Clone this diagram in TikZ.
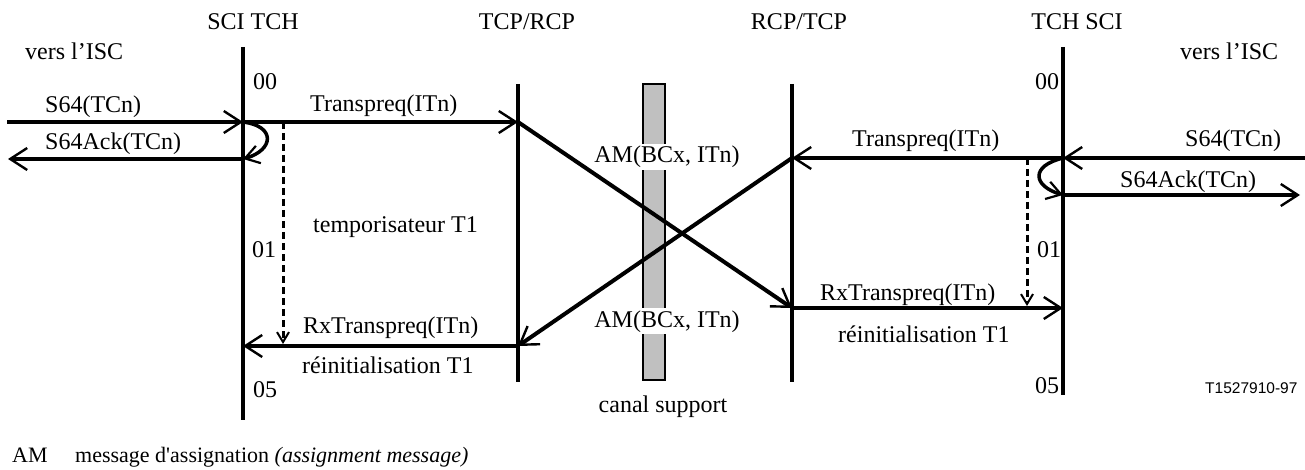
\documentclass[tikz,border=0pt]{standalone}
\usepackage{fontspec}
\setmainfont{Liberation Serif}
\newfontfamily\figsans{Liberation Sans}
\usetikzlibrary{arrows.meta}
\definecolor{bargray}{RGB}{192,192,192}

\begin{document}
\begin{tikzpicture}[
    x=1pt, y=-1pt,
    every node/.style={font=\fontsize{24}{28}\selectfont, inner sep=0pt, anchor=base west},
    life/.style={line width=3.2pt},
    msg/.style={line width=4pt, -{Straight Barb[length=17pt, width=22pt, line width=2.4pt]}},
    loopback/.style={line width=3.5pt, -{Straight Barb[length=14pt, width=18pt, line width=2.2pt]}},
    timer/.style={line width=3pt, dash pattern=on 7pt off 4pt, -{Straight Barb[length=10pt, width=12pt, line width=2pt]}},
    title/.style={anchor=base},
    ammsg/.style={anchor=base, fill=white, inner sep=2pt},
    refno/.style={font=\figsans\fontsize{15.5}{18}\selectfont},
    legend/.style={font=\fontsize{22}{26}\selectfont}
]
    \useasboundingbox (0,0) rectangle (1305,470);

    % Headings
    \node[title] (hSciL) at (253,30) {SCI TCH};
    \node[title] (hTcp) at (527,30) {TCP/RCP};
    \node[title] (hRcp) at (799,30) {RCP/TCP};
    \node[title] (hSciR) at (1077,30) {TCH SCI};
    \node (versL) at (25,60) {vers l’ISC};
    \node (versR) at (1180,60) {vers l’ISC};

    % Lifelines
    \coordinate (tchL-top) at (243,47);
    \coordinate (tchL-bot) at (243,420);
    \coordinate (tcp-top) at (518,84);
    \coordinate (tcp-bot) at (518,382);
    \coordinate (rcp-top) at (792,84);
    \coordinate (rcp-bot) at (792,382);
    \coordinate (tchR-top) at (1063,47);
    \coordinate (tchR-bot) at (1063,395);
    \draw[life] (tchL-top) -- (tchL-bot);
    \draw[life] (tcp-top) -- (tcp-bot);
    \draw[life] (rcp-top) -- (rcp-bot);
    \draw[life] (tchR-top) -- (tchR-bot);

    % Bearer channel
    \draw[line width=2.8pt, fill=bargray] (643,84) rectangle (665,380);
    \node[title] (canal) at (663,412) {canal support};

    % Message points
    \coordinate (iscL-in) at (7,122);
    \coordinate (iscL-out) at (8,159);
    \coordinate (tchL-s64) at (243,122);
    \coordinate (tchL-ack) at (243,159);
    \coordinate (tchL-rx) at (243,346);
    \coordinate (tcp-in) at (518,122);
    \coordinate (tcp-rx) at (518,346);
    \coordinate (rcp-in) at (792,158);
    \coordinate (rcp-rx) at (792,308);
    \coordinate (tchR-s64) at (1063,158);
    \coordinate (tchR-ack) at (1063,195);
    \coordinate (tchR-rx) at (1063,308);
    \coordinate (iscR-in) at (1305,158);
    \coordinate (iscR-out) at (1300,195);

    % Left side
    \draw[msg] (iscL-in) -- (tchL-s64);
    \draw[msg] (tchL-ack) -- (iscL-out);
    \draw[loopback] (tchL-s64) .. controls (276,126) and (274,150) .. (tchL-ack);
    \draw[msg] (tchL-s64) -- (tcp-in);
    \draw[msg] (tcp-rx) -- (tchL-rx);
    \node (s64L) at (45,113) {S64(TCn)};
    \node (ackL) at (45,150) {S64Ack(TCn)};
    \node (tpL) at (310,112) {Transpreq(ITn)};
    \node (rxL) at (303,333) {RxTranspreq(ITn)};
    \node (reiL) at (302,373) {réinitialisation T1};
    \node (tempo) at (313,233) {temporisateur T1};
    \node (p00L) at (253,90) {00};
    \node (p01L) at (252,258) {01};
    \node (p05L) at (253,397) {05};

    % Timer T1
    \coordinate (t1L-start) at (283,122);
    \coordinate (t1L-end) at (283,344);
    \coordinate (t1R-start) at (1027,158);
    \coordinate (t1R-end) at (1027,306);
    \draw[timer] (t1L-start) -- (t1L-end);
    \draw[timer] (t1R-start) -- (t1R-end);

    % Crossing AM messages
    \draw[msg] (tcp-in) -- (rcp-rx);
    \draw[msg] (rcp-in) -- (tcp-rx);
    \node[ammsg] (amUp) at (667,163) {AM(BCx, ITn)};
    \node[ammsg] (amLow) at (667,327) {AM(BCx, ITn)};

    % Right side
    \draw[msg] (iscR-in) -- (tchR-s64);
    \draw[msg] (tchR-ack) -- (iscR-out);
    \draw[loopback] (tchR-s64) .. controls (1030,166) and (1033,186) .. (tchR-ack);
    \draw[msg] (tchR-s64) -- (rcp-in);
    \draw[msg] (rcp-rx) -- (tchR-rx);
    \node (s64R) at (1185,147) {S64(TCn)};
    \node (ackR) at (1120,188) {S64Ack(TCn)};
    \node (tpR) at (852,147) {Transpreq(ITn)};
    \node (rxR) at (820,300) {RxTranspreq(ITn)};
    \node (reiR) at (838,342) {réinitialisation T1};
    \node (p00R) at (1035,90) {00};
    \node (p01R) at (1037,257) {01};
    \node (p05R) at (1035,393) {05};
    \node[refno] (ref) at (1205,393) {T1527910-97};

    % Legend
    \node[legend] (legAM) at (12,462) {AM};
    \node[legend] (legTxt) at (75,462) {message d\textquotesingle assignation \textit{(assignment message)}};
\end{tikzpicture}
\end{document}
